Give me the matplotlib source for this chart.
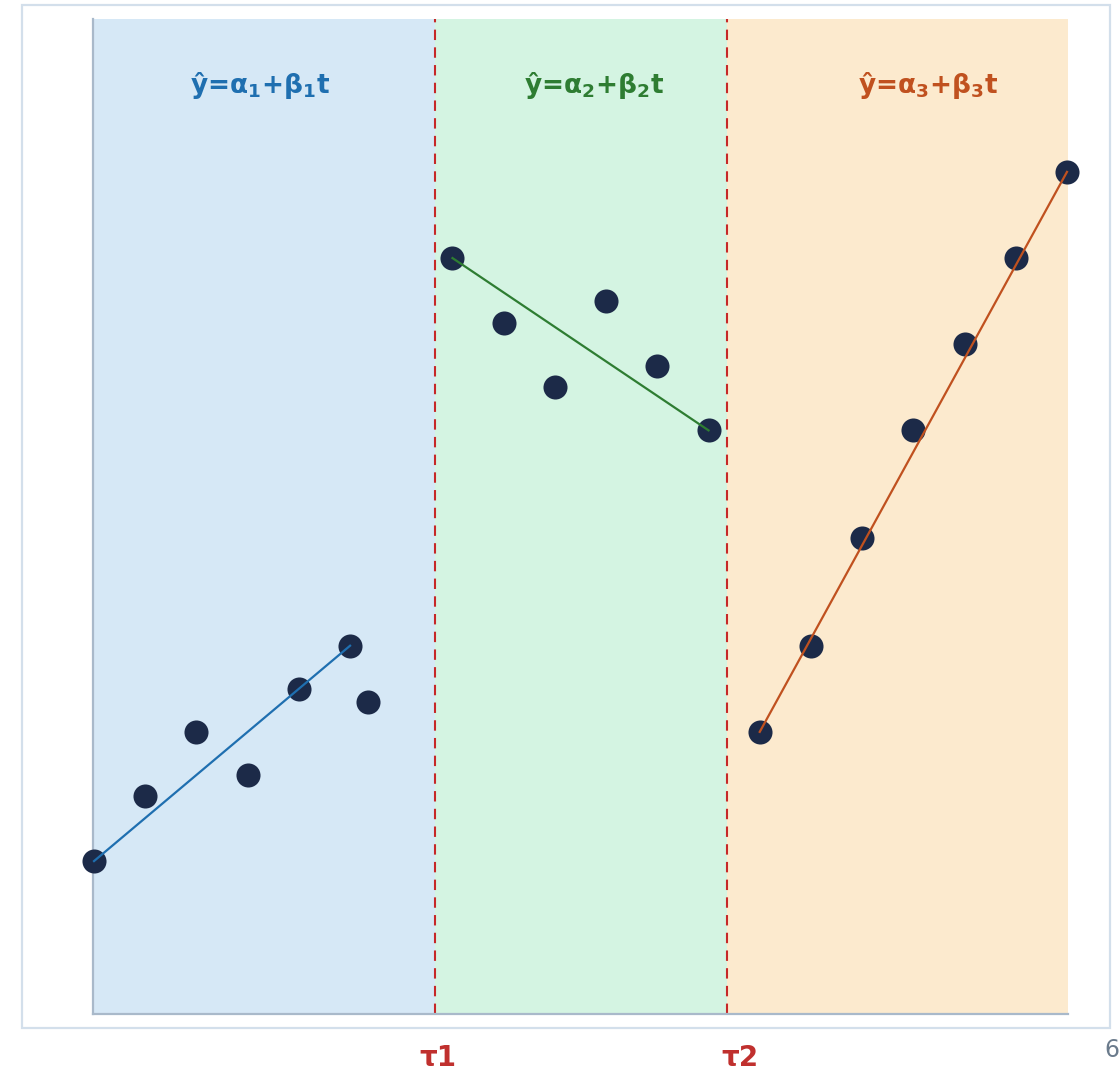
import matplotlib
matplotlib.use("Agg")
import matplotlib.pyplot as plt
from matplotlib.patches import Rectangle

plt.rcParams["mathtext.fontset"] = "custom"
plt.rcParams["mathtext.bf"] = "DejaVu Sans:bold"
plt.rcParams["mathtext.rm"] = "DejaVu Sans:bold"

# ---- data ----
seg1_x = [0, 1, 2, 3, 4, 5, 5.35]
seg1_y = [2, 3.5, 5, 4, 6, 7, 5.7]
seg2_x = [7, 8, 9, 10, 11, 12]
seg2_y = [16, 14.5, 13, 15, 13.5, 12]
seg3_x = [13, 14, 15, 16, 17, 18, 19]
seg3_y = [5, 7, 9.5, 12, 14, 16, 18]
fit1_x = [0, 5]
fit1_y = [2, 7]
fit2_x = [7, 12]
fit2_y = [16, 12]
fit3_x = [13, 19]
fit3_y = [5, 18]
breaks = [6.66, 12.36]
break_labels = ["τ1", "τ2"]
formulas = [r"ŷ=α$_{\mathbf{1}}$+β$_{\mathbf{1}}$t",
            r"ŷ=α$_{\mathbf{2}}$+β$_{\mathbf{2}}$t",
            r"ŷ=α$_{\mathbf{3}}$+β$_{\mathbf{3}}$t"]
formula_x = [3.24, 9.76, 16.29]
formula_y = 20

bg_cols = ["#d6e8f6", "#d4f4e2", "#fceace"]
line_cols = ["#1f6fb0", "#2e7d32", "#c0511f"]
dot_col = "#1c2a48"
red = "#c62828"

fig = plt.figure(figsize=(11.2, 10.75), dpi=100)
ax = fig.add_axes([93/1120, 1-1014/1075, (1068-93)/1120, (1014-19)/1075])
xmin, xmax = -0.02, 19.02
ax.set_xlim(xmin, xmax)
ax.set_ylim(-1.55, 21.55)

edges = [xmin, breaks[0], breaks[1], xmax]
for i in range(3):
    ax.axvspan(edges[i], edges[i+1], color=bg_cols[i], lw=0, zorder=0)

for b in breaks:
    ax.axvline(b, color=red, lw=1.5, ls=(0, (5, 3.5)), zorder=1)

for xs, ys, fx, fy, c in [(seg1_x, seg1_y, fit1_x, fit1_y, line_cols[0]),
                          (seg2_x, seg2_y, fit2_x, fit2_y, line_cols[1]),
                          (seg3_x, seg3_y, fit3_x, fit3_y, line_cols[2])]:
    ax.scatter(xs, ys, s=300, color=dot_col, zorder=3, clip_on=False, lw=0)
    ax.plot(fx, fy, color=c, lw=1.6, zorder=4, clip_on=False)

for t, x, c in zip(formulas, formula_x, line_cols):
    ax.text(x, formula_y, t, color=c, fontsize=19, fontweight="bold",
            ha="center", va="center", family=["DejaVu Sans"], zorder=5)

ax.set_xticks([])
ax.set_yticks([])
for s in ["top", "right"]:
    ax.spines[s].set_visible(False)
for s in ["left", "bottom"]:
    ax.spines[s].set_color("#a9b9ca")
    ax.spines[s].set_linewidth(1.6)

fig.patches.append(Rectangle((22/1120, 1-1028/1075), (1110-22)/1120, (1028-5)/1075,
                             transform=fig.transFigure, fill=False,
                             edgecolor="#d3dfeb", lw=1.6, zorder=0))

for b, lab in zip([438, 740], break_labels):
    fig.text(b/1120, 1-1058/1075, lab, color="#c0302e", fontsize=20,
             fontweight="bold", ha="center", va="center")

fig.text(1119/1120, 1-1050/1075, "6", color="#6b7b8c", fontsize=17,
         ha="right", va="center")

fig.savefig("out.png", dpi=100)
